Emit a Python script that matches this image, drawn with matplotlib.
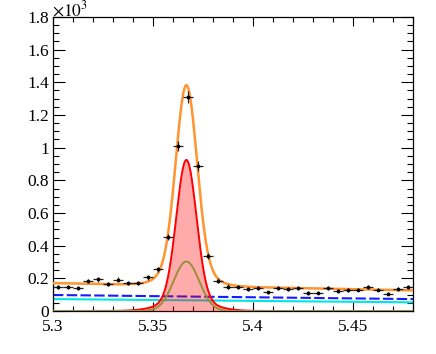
import numpy as np
import matplotlib
matplotlib.use("Agg")
import matplotlib.pyplot as plt
from matplotlib.ticker import MultipleLocator, FormatStrFormatter

plt.rcParams['font.family'] = ['Liberation Serif', 'DejaVu Serif']
plt.rcParams['mathtext.fontset'] = 'stix'

# binned data, bin width 0.005 GeV, counts
bin_lo = 5.30
bin_w = 0.005
counts = [149, 145, 141, 184, 194, 165, 192, 173, 173, 206,
          255, 453, 1012, 1312, 888, 337, 186, 150, 146, 137,
          139, 114, 143, 135, 139, 110, 112, 141, 124, 129,
          131, 149, 131, 106, 137, 145]

# fit components (in units of 10^3 per bin)
mass_peak = 5.3667
core_amp, core_sigma = 0.855, 0.0050
tail_amp, tail_sigma = 0.070, 0.0115
olive_amp, olive_sigma = 0.303, 0.0064
bkg1_left, bkg1_right = 0.098, 0.073   # blue dashed
bkg2_left, bkg2_right = 0.073, 0.053   # cyan

x_lo, x_hi = 5.30, 5.48

centers = bin_lo + bin_w * (np.arange(len(counts)) + 0.5)
y = np.array(counts) / 1000.0
yerr = np.sqrt(np.array(counts)) / 1000.0

xs = np.linspace(x_lo, x_hi, 1000)


def gaus(x, a, m, s):
    return a * np.exp(-0.5 * ((x - m) / s) ** 2)


def line(x, left, right):
    return left + (right - left) * (x - x_lo) / (x_hi - x_lo)


sig = gaus(xs, core_amp, mass_peak, core_sigma) + gaus(xs, tail_amp, mass_peak, tail_sigma)
olive = gaus(xs, olive_amp, mass_peak, olive_sigma)
bkg1 = line(xs, bkg1_left, bkg1_right)
bkg2 = line(xs, bkg2_left, bkg2_right)
total = sig + olive + bkg1 + bkg2

fig = plt.figure(figsize=(4.36, 3.54), dpi=100)
ax = fig.add_axes([53 / 436, 43 / 354, 360 / 436, 294 / 354])

ax.plot(xs, bkg1, color='#1a1aff', lw=1.5, ls=(0, (5, 1.6)), zorder=2)
ax.plot(xs, bkg2, color='#00e5e5', lw=1.5, zorder=2)
ax.fill_between(xs, 0, sig, color='#ff0000', alpha=0.33, lw=0, zorder=3)
ax.plot(xs, sig, color='#ff0000', lw=1.4, zorder=4)
ax.plot(xs, olive, color='#9a8f3a', lw=1.4, zorder=4)
ax.plot(xs, total, color='#ff9430', lw=1.8, zorder=5)

ax.errorbar(centers, y, xerr=bin_w / 2, yerr=yerr, fmt='o', ms=1.7,
            color='black', ecolor='#222222', elinewidth=0.9, capsize=0, zorder=6)

ax.set_xlim(x_lo, x_hi)
ax.set_ylim(0, 1.8)

ax.xaxis.set_major_locator(MultipleLocator(0.05))
ax.xaxis.set_minor_locator(MultipleLocator(0.01))
ax.yaxis.set_major_locator(MultipleLocator(0.2))
ax.yaxis.set_minor_locator(MultipleLocator(0.05))
ax.xaxis.set_major_formatter(FormatStrFormatter('%g'))
ax.yaxis.set_major_formatter(FormatStrFormatter('%g'))

ax.tick_params(which='both', direction='in', top=True, right=True, labelsize=12.5)
ax.tick_params(axis='y', which='major', length=8.5, width=0.8, pad=3)
ax.tick_params(axis='y', which='minor', length=4.3, width=0.8)
ax.tick_params(axis='x', which='major', length=6.5, width=0.8, pad=6)
ax.tick_params(axis='x', which='minor', length=3.3, width=0.8)
for sp in ax.spines.values():
    sp.set_linewidth(0.9)

fig.text(52 / 436, 1 - 16 / 354, r'$\times10^{3}$', fontsize=12.5,
         ha='left', va='baseline')

fig.savefig('out.png', dpi=100)
